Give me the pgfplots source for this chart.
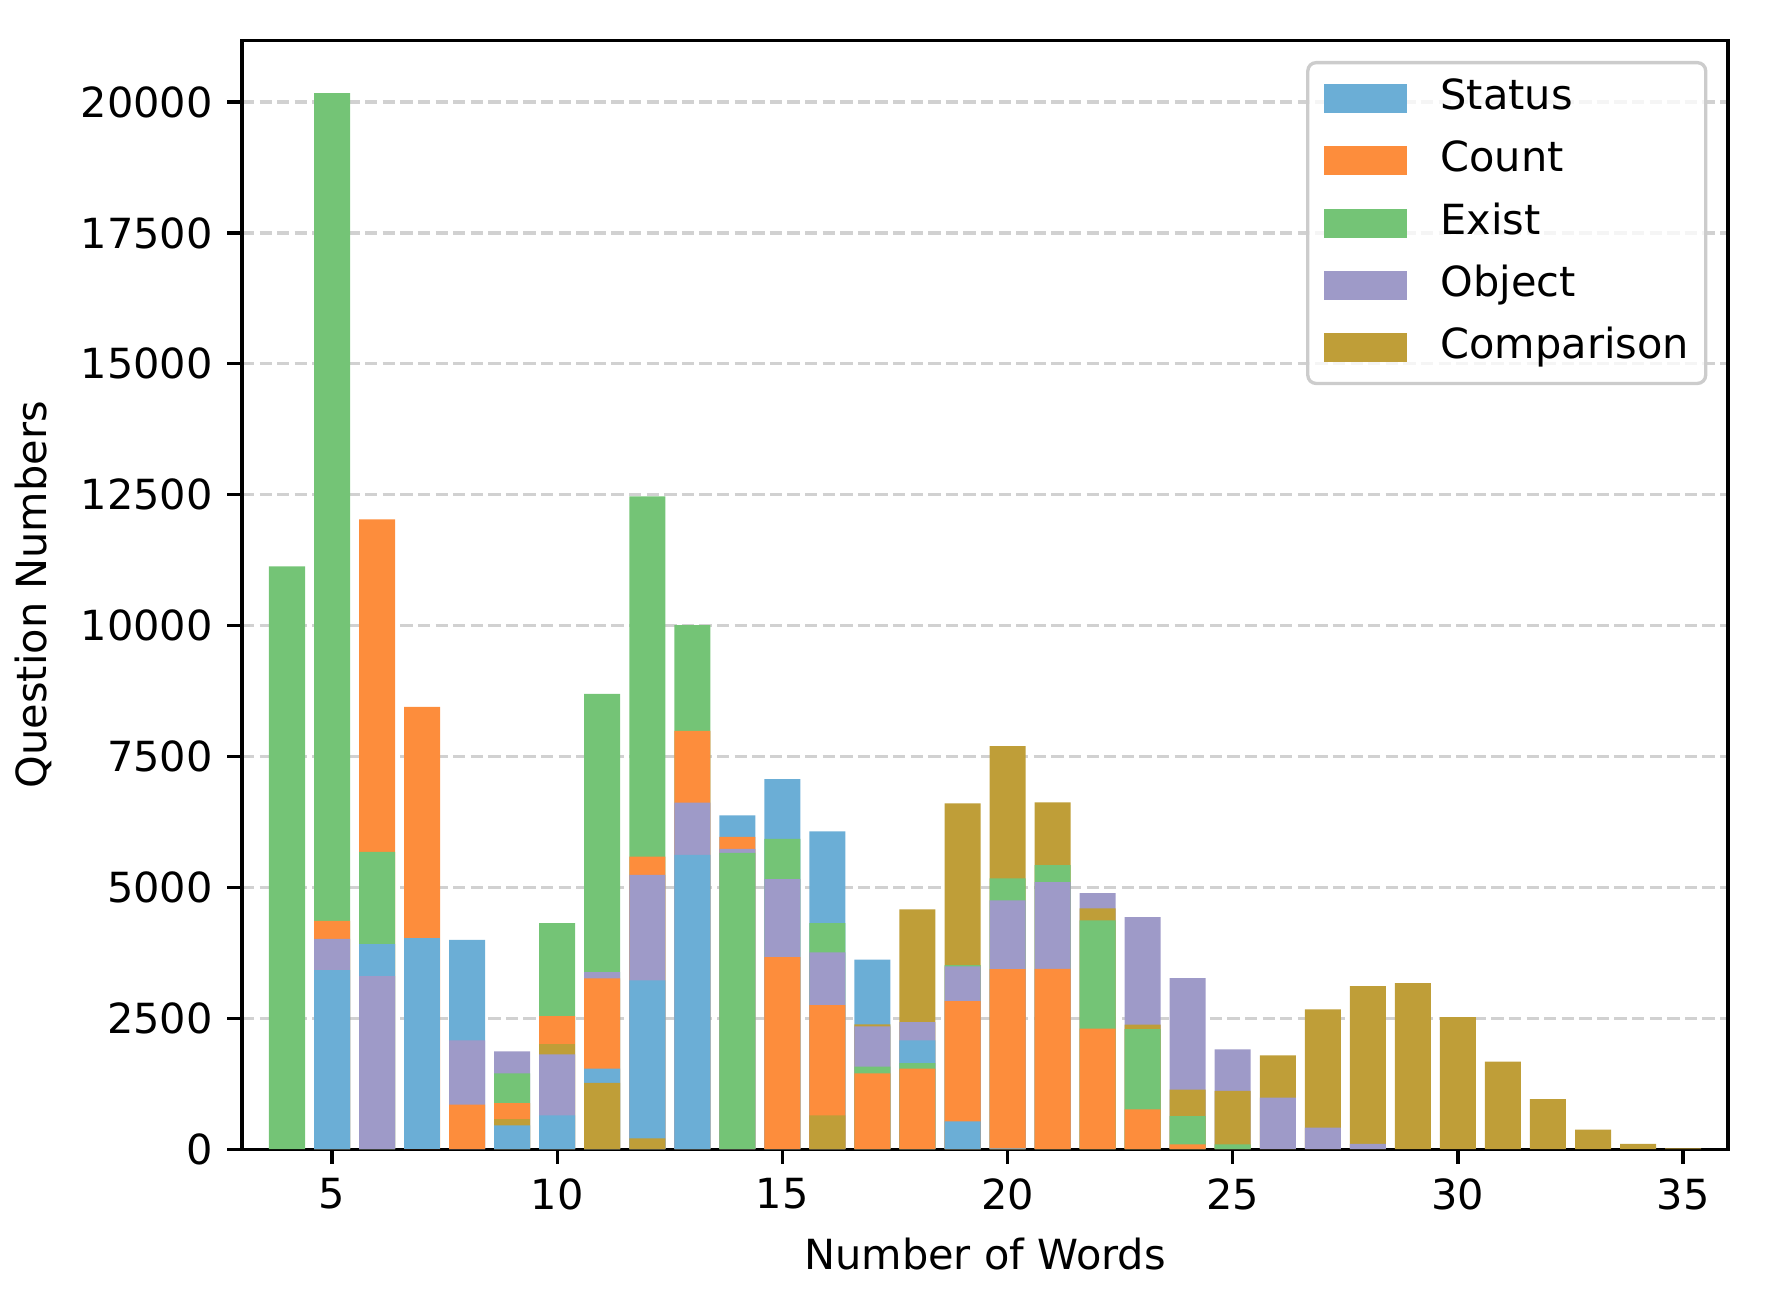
\documentclass[border=0pt]{standalone}
\usepackage{fontspec}
\setmainfont{DejaVu Sans}
\usepackage{pgfplots}
\pgfplotsset{compat=1.18}
\definecolor{cS}{HTML}{6BAED6}
\definecolor{cC}{HTML}{FD8D3C}
\definecolor{cE}{HTML}{74C476}
\definecolor{cO}{HTML}{9E9AC8}
\definecolor{cP}{HTML}{BF9E38}
\pgfplotsset{bb/.style={ybar, bar width=0.8, bar shift=0pt, draw=none, forget plot}}
\begin{document}
\begin{tikzpicture}
\useasboundingbox (-58.3pt,-38.3pt) rectangle (370.6pt,276.9pt);
\begin{axis}[
  at={(0,0)}, anchor=south west, scale only axis,
  width=358.1pt, height=267.2pt,
  xmin=3, xmax=36, ymin=0, ymax=21180,
  xtick={5,10,...,35}, ytick={0,2500,...,20000},
  scaled y ticks=false,
  xtick pos=bottom, ytick pos=left,
  tick align=outside, major tick length=3.5pt,
  every tick/.style={black, line width=0.8pt},
  axis line style={black, line width=0.8pt},
  /pgf/number format/assume math mode=true,
  y tick label style={/pgf/number format/1000 sep={}},
  ymajorgrids,
  major grid style={draw=black!18, line width=0.8pt, dash pattern=on 2.96pt off 1.28pt},
  xlabel={Number of Words}, ylabel={Question Numbers},
  legend image code/.code={\fill[#1, draw=none, sharp corners, fill opacity=1] (0pt,-3.5pt) rectangle (20pt,3.5pt);},
  legend cell align=left,
  legend style={at={(1,1)}, xshift=-5pt, yshift=-5pt, anchor=north east,
    draw=black!20, line width=0.8pt, rounded corners=2pt, fill=white, fill opacity=0.8, text opacity=1,
    inner xsep=4pt, inner ysep=4pt, row sep=5.7pt,
    nodes={inner sep=0pt, text height=7.3pt, text depth=2pt},
    /tikz/every odd column/.style={column sep=8pt}},
]
\addlegendimage{fill=cS, draw=none}\addlegendentry{Status}
\addlegendimage{fill=cC, draw=none}\addlegendentry{Count}
\addlegendimage{fill=cE, draw=none}\addlegendentry{Exist}
\addlegendimage{fill=cO, draw=none}\addlegendentry{Object}
\addlegendimage{fill=cP, draw=none}\addlegendentry{Comparison}
% rank 1 (largest value at each x, drawn first)
\addplot[bb, fill=cS] coordinates {(8,3995)(14,6377)(15,7066)(16,6071)(17,3622)};
\addplot[bb, fill=cC] coordinates {(6,12030)(7,8446)};
\addplot[bb, fill=cE] coordinates {(4,11130)(5,20170)(10,4316)(11,8695)(12,12470)(13,10010)};
\addplot[bb, fill=cO] coordinates {(9,1867)(22,4888)(23,4430)(24,3266)(25,1906)};
\addplot[bb, fill=cP] coordinates {(18,4579)(19,6605)(20,7698)(21,6622)(26,1789)(27,2672)(28,3115)(29,3172)(30,2522)(31,1674)(32,956)(33,375)(34,103)(35,13)};
% rank 2
\addplot[bb, fill=cS] coordinates {(7,4030)};
\addplot[bb, fill=cC] coordinates {(5,4360)(10,2540)(12,5585)(13,7991)(14,5963)};
\addplot[bb, fill=cE] coordinates {(6,5678)(9,1447)(15,5924)(16,4318)(19,3516)(20,5172)(21,5427)};
\addplot[bb, fill=cO] coordinates {(8,2080)(11,3380)(18,2425)(26,982)(27,413)(28,103)};
\addplot[bb, fill=cP] coordinates {(17,2385)(22,4600)(23,2377)(24,1137)(25,1111)};
% rank 3
\addplot[bb, fill=cS] coordinates {(6,3915)(18,2080)};
\addplot[bb, fill=cC] coordinates {(8,850)(9,879)(11,3262)};
\addplot[bb, fill=cE] coordinates {(22,4372)(23,2293)(24,633)(25,90)};
\addplot[bb, fill=cO] coordinates {(5,4015)(12,5238)(13,6620)(14,5733)(15,5159)(16,3760)(17,2345)(19,3490)(20,4751)(21,5098)};
\addplot[bb, fill=cP] coordinates {(10,2003)};
% rank 4
\addplot[bb, fill=cS] coordinates {(5,3420)(11,1537)(12,3225)(13,5620)};
\addplot[bb, fill=cC] coordinates {(15,3670)(16,2752)(19,2828)(20,3440)(21,3442)(22,2300)(23,762)(24,90)};
\addplot[bb, fill=cE] coordinates {(14,5657)(17,1576)(18,1641)};
\addplot[bb, fill=cO] coordinates {(6,3305)(10,1809)};
\addplot[bb, fill=cP] coordinates {(9,568)};
% rank 5
\addplot[bb, fill=cS] coordinates {(9,452)(10,646)(19,530)(20,15)};
\addplot[bb, fill=cC] coordinates {(17,1447)(18,1537)};
\addplot[bb, fill=cP] coordinates {(11,1266)(12,207)(16,646)};
\end{axis}
\end{tikzpicture}
\end{document}
